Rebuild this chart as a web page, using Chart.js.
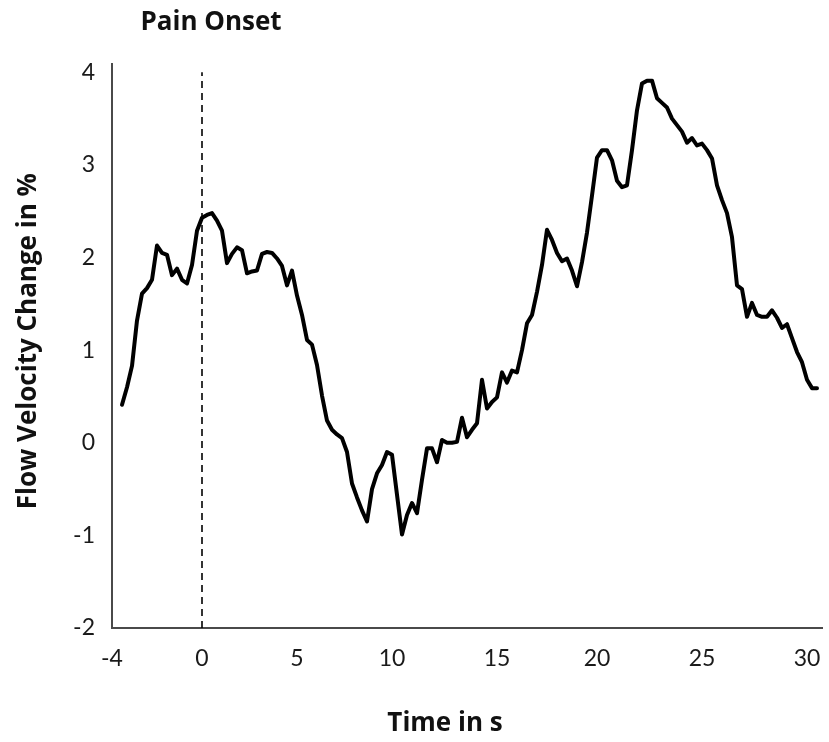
<!DOCTYPE html>
<html>
<head>
<meta charset="utf-8">
<script src="https://cdn.jsdelivr.net/npm/chart.js@4.4.0/dist/chart.umd.min.js"></script>
<style>
html,body{margin:0;padding:0;background:#fff;}
#wrap{width:829px;height:742px;position:relative;}
</style>
</head>
<body>
<div id="wrap"><canvas id="c" width="829" height="742"></canvas></div>
<script>
// Category axis (evenly spaced samples, as in the source spreadsheet line chart)
const categories = [
  '-4','','','','','','','','','',
  '','','','','','','','','0','',
  '','','','','','','','','','',
  '','','','','','','','5','','',
  '','','','','','','','','','',
  '','','','','','','10','','','',
  '','','','','','','','','','',
  '','','','','','','','15','','',
  '','','','','','','','','','',
  '','','','','','','','20','','',
  '','','','','','','','','','',
  '','','','','','','','','25','',
  '','','','','','','','','','',
  '','','','','','','','','','30',
  '','',''
];

// Flow velocity change in % per sample
const flowChange = [
  null, null, 0.41, 0.60, 0.83, 1.32, 1.61, 1.67, 1.76, 2.13,
  2.05, 2.03, 1.81, 1.88, 1.76, 1.72, 1.92, 2.29, 2.43, 2.46,
  2.48, 2.40, 2.29, 1.94, 2.04, 2.11, 2.08, 1.83, 1.85, 1.86,
  2.04, 2.06, 2.05, 1.99, 1.91, 1.70, 1.86, 1.59, 1.38, 1.11,
  1.06, 0.84, 0.51, 0.24, 0.14, 0.09, 0.05, -0.10, -0.44, -0.59,
  -0.73, -0.85, -0.50, -0.33, -0.24, -0.10, -0.13, -0.56, -0.99, -0.78,
  -0.65, -0.76, -0.40, -0.06, -0.06, -0.21, 0.03, 0.00, 0.00, 0.01,
  0.27, 0.06, 0.14, 0.21, 0.68, 0.37, 0.44, 0.49, 0.76, 0.65,
  0.78, 0.76, 1.00, 1.29, 1.38, 1.63, 1.92, 2.30, 2.19, 2.05,
  1.96, 1.99, 1.86, 1.69, 1.95, 2.27, 2.67, 3.08, 3.16, 3.16,
  3.05, 2.83, 2.76, 2.78, 3.16, 3.59, 3.88, 3.91, 3.91, 3.72,
  3.67, 3.62, 3.50, 3.43, 3.36, 3.24, 3.29, 3.21, 3.23, 3.16,
  3.07, 2.78, 2.62, 2.48, 2.22, 1.70, 1.66, 1.36, 1.51, 1.38,
  1.36, 1.36, 1.43, 1.35, 1.24, 1.28, 1.13, 0.98, 0.87, 0.68,
  0.59, 0.59, null
];

const yTicks = [-2, -1, 0, 1, 2, 3, 4];
const yMin = -2;
const yMax = 4;
const yAxisTop = 4.09;   // axis line runs slightly past the last tick
const onsetLabel = '0';
const chartTitle = 'Pain Onset';
const xTitle = 'Time in s';
const yTitle = 'Flow Velocity Change in %';

const onsetLine = [
  { x: onsetLabel, y: yMin },
  { x: onsetLabel, y: yMax }
];

const textPlugin = {
  id: 'textPlugin',
  afterDraw(chart) {
    const { ctx, chartArea, scales } = chart;
    ctx.save();
    ctx.fillStyle = '#111';
    ctx.font = 'bold 26px "Open Sans"';
    ctx.textAlign = 'center';
    ctx.textBaseline = 'middle';
    const x0 = scales.x.getPixelForValue(categories.indexOf(onsetLabel));
    const yTop = scales.y.getPixelForValue(yMax);
    const yBot = scales.y.getPixelForValue(yMin);
    ctx.fillText(chartTitle, x0 + 9, yTop - 50);
    ctx.fillText(xTitle, (chartArea.left + chartArea.right) / 2 - 22, chartArea.bottom + 96);
    ctx.translate(29, (yTop + yBot) / 2 - 9);
    ctx.rotate(-Math.PI / 2);
    ctx.fillText(yTitle, 0, 0);
    ctx.restore();
  }
};

new Chart(document.getElementById('c'), {
  type: 'line',
  data: {
    labels: categories,
    datasets: [
      {
        data: flowChange,
        borderColor: '#000',
        borderWidth: 4,
        pointRadius: 0,
        tension: 0,
        fill: false,
        borderJoinStyle: 'round',
        borderCapStyle: 'round',
        order: 0
      },
      {
        data: onsetLine,
        borderColor: '#000',
        borderWidth: 1.6,
        borderDash: [7, 5],
        pointRadius: 0,
        fill: false,
        order: 1
      }
    ]
  },
  options: {
    responsive: false,
    animation: false,
    events: [],
    layout: { padding: { left: 0, right: 7, top: 64, bottom: 0 } },
    plugins: { legend: { display: false }, tooltip: { enabled: false }, title: { display: false } },
    scales: {
      x: {
        type: 'category',
        offset: false,
        grid: { display: false, drawTicks: false },
        border: { display: true, color: '#4a4a4a', width: 2 },
        ticks: {
          autoSkip: false,
          maxRotation: 0,
          minRotation: 0,
          padding: 17,
          color: '#1a1a1a',
          font: { family: 'Lato', size: 23 },
          callback: (v, i) => categories[i]
        },
        afterFit: (scale) => { scale.height = 114; scale.paddingLeft = 0; scale.paddingRight = 0; }
      },
      y: {
        min: yMin,
        max: yAxisTop,
        grid: { display: false, drawTicks: false },
        border: { display: true, color: '#4a4a4a', width: 2 },
        afterBuildTicks: (scale) => { scale.ticks = yTicks.map(v => ({ value: v })); },
        ticks: {
          padding: 17,
          color: '#1a1a1a',
          font: { family: 'Lato', size: 23 }
        },
        afterFit: (scale) => { scale.width = 112; scale.paddingTop = 0; scale.paddingBottom = 0; }
      }
    }
  },
  plugins: [textPlugin]
});
</script>
</body>
</html>
